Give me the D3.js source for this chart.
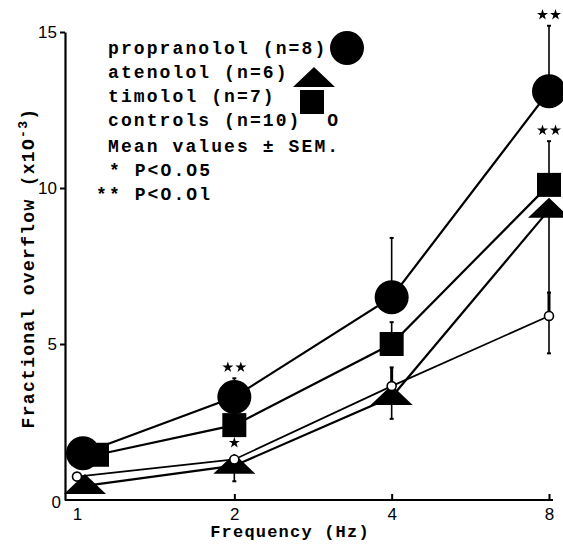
<!DOCTYPE html>
<html>
<head>
<meta charset="utf-8">
<script src="https://cdn.jsdelivr.net/npm/d3@7"></script>
<style>
  body { margin: 0; background: #fff; }
  svg { display: block; }
  .mono { font-family: "Liberation Mono", "DejaVu Sans Mono", monospace; font-weight: bold; }
  .tick text { font-family: "Liberation Sans", Arial, sans-serif; font-size: 17px; }
</style>
</head>
<body>
<div class="canvas"></div>
<script>
// data
const freqs = [1, 2, 4, 8];
const propranolol = [1.5, 3.3, 6.5, 13.1];
const propranololSem = [0, 0.6, 1.9, 2.1];
const timolol = [1.45, 2.4, 5.0, 10.1];
const timololSem = [0, 0, 0.7, 1.4];
const atenolol = [0.45, 1.1, 3.3, 9.3];
const atenololSem = [0, 0.5, 0.7, 4.6];
const controls = [0.75, 1.3, 3.65, 5.9];
const controlsSem = [0, 0, 0.6, 0.75];
const propranololSig = ['', '**', '', '**'];
const timololSig = ['', '', '', '**'];
const atenololSig = ['', '*', '', ''];
const controlsSig = ['', '', '', ''];
const yTicks = [0, 5, 10, 15];
const legendLabels = ['propranolol (n=8)', 'atenolol (n=6)', 'timolol (n=7)', 'controls (n=10) O'];
const noteLabels = ['Mean values \u00B1 SEM.', ' * P<O.O5', '** P<O.Ol'];

const dims = { width: 563, height: 544 };

const svg = d3.select('.canvas')
  .append('svg')
  .attr('width', dims.width)
  .attr('height', dims.height);

svg.append('rect').attr('width', dims.width).attr('height', dims.height).attr('fill', '#fff');

const x = d3.scaleLog().base(2).domain([1, 8]).range([77, 549]);
const y = d3.scaleLinear().domain([0, 15]).range([500, 32]);

// series: jitter at 1 Hz only, as in the original figure
const series = [
  { name: 'propranolol', vals: propranolol, sem: propranololSem, sig: propranololSig, dir: -1, shape: 'circle', dx1: 6 },
  { name: 'timolol', vals: timolol, sem: timololSem, sig: timololSig, dir: -1, shape: 'square', dx1: 20 },
  { name: 'atenolol', vals: atenolol, sem: atenololSem, sig: atenololSig, dir: 1, shape: 'triangle', dx1: 8 },
  { name: 'controls', vals: controls, sem: controlsSem, sig: controlsSig, dir: -1, shape: 'open', dx1: 0 }
];

const px = (s, i) => x(freqs[i]) + (i === 0 ? s.dx1 : 0);

// axes
const xAxis = d3.axisBottom(x)
  .tickValues(freqs)
  .tickFormat(d3.format('d'))
  .tickSizeInner(-6)
  .tickSizeOuter(0)
  .tickPadding(8);

const gx = svg.append('g')
  .attr('transform', `translate(0, ${y(0)})`)
  .call(xAxis);
gx.select('.domain').attr('d', `M65,0H${x(8) + 4}`).attr('stroke-width', 2.2);
gx.selectAll('.tick line').attr('stroke-width', 2);
gx.selectAll('.tick').filter(d => d === 1).select('line').remove();

const yAxis = d3.axisLeft(y)
  .tickValues(yTicks)
  .tickSizeInner(5)
  .tickSizeOuter(0)
  .tickPadding(3);

const gy = svg.append('g')
  .attr('transform', 'translate(65, 0)')
  .call(yAxis);
gy.select('.domain').attr('stroke-width', 2.2);
gy.selectAll('.tick line').attr('stroke-width', 2);
gy.selectAll('.tick').filter(d => d === 0).select('line').remove();
gy.selectAll('.tick').filter(d => d === 0).select('text').attr('x', -4).attr('dy', '0.45em');

svg.append('text')
  .attr('class', 'mono')
  .attr('x', 290).attr('y', 537)
  .attr('text-anchor', 'middle')
  .attr('font-size', 17)
  .attr('letter-spacing', 1.2)
  .text('Frequency (Hz)');

const ytitle = svg.append('text')
  .attr('class', 'mono')
  .attr('transform', 'translate(34, 268) rotate(-90)')
  .attr('text-anchor', 'middle')
  .attr('font-size', 18)
  .attr('letter-spacing', 1.3);
ytitle.append('tspan').text('Fractional overflow (x1O');
ytitle.append('tspan').attr('dy', -7).attr('font-size', 13).text('-3');
ytitle.append('tspan').attr('dy', 7).text(')');

// lines
const line = d3.line();
const graph = svg.append('g');

series.forEach(s => {
  graph.append('path')
    .attr('d', line(s.vals.map((v, i) => [px(s, i), y(v)])))
    .attr('fill', 'none')
    .attr('stroke', '#000')
    .attr('stroke-width', s.shape === 'open' ? 1.7 : 2.2);
});

// error bars
series.forEach(s => {
  s.vals.forEach((v, i) => {
    if (!s.sem[i]) return;
    const cx = px(s, i);
    const y1 = y(v), y2 = y(v - s.dir * s.sem[i]);
    graph.append('line')
      .attr('x1', cx).attr('x2', cx).attr('y1', y1).attr('y2', y2)
      .attr('stroke', '#000').attr('stroke-width', s.shape === 'open' ? 3 : 1.6);
    graph.append('line')
      .attr('x1', cx - 2).attr('x2', cx + 2).attr('y1', y2).attr('y2', y2)
      .attr('stroke', '#000').attr('stroke-width', 2);
  });
});

// markers
const drawMarker = (g, shape, cx, cy) => {
  if (shape === 'circle') {
    g.append('circle').attr('cx', cx).attr('cy', cy).attr('r', 17).attr('fill', '#000');
  } else if (shape === 'square') {
    g.append('rect').attr('x', cx - 12).attr('y', cy - 12).attr('width', 24).attr('height', 24).attr('fill', '#000');
  } else if (shape === 'triangle') {
    g.append('path').attr('d', `M${cx},${cy - 12}L${cx + 21},${cy + 8}L${cx - 21},${cy + 8}Z`).attr('fill', '#000');
  } else {
    g.append('circle').attr('cx', cx).attr('cy', cy).attr('r', 4.5)
      .attr('fill', '#fff').attr('stroke', '#000').attr('stroke-width', 1.6);
  }
};

const markerTop = { circle: 17, square: 12, triangle: 12, open: 5 };

series.forEach(s => {
  s.vals.forEach((v, i) => drawMarker(graph, s.shape, px(s, i), y(v)));
});

// significance stars
const star = d3.symbol().type(d3.symbolStar).size(38);
series.forEach(s => {
  s.vals.forEach((v, i) => {
    const n = s.sig[i].length;
    if (!n) return;
    let top = y(v) - markerTop[s.shape];
    if (s.dir < 0 && s.sem[i]) top = Math.min(top, y(v + s.sem[i]));
    const cy = top - 11;
    for (let k = 0; k < n; k++) {
      const cx = px(s, i) + (k - (n - 1) / 2) * 13;
      graph.append('path').attr('d', star).attr('transform', `translate(${cx}, ${cy})`).attr('fill', '#000');
    }
  });
});

// legend
const legend = svg.append('g').attr('class', 'mono').attr('font-size', 18).attr('letter-spacing', 2.1);
const legendShapes = ['circle', 'triangle', 'square', null];
const legendSymX = [347, 314, 312, null];
legendLabels.forEach((t, i) => {
  const ty = 54 + i * 24;
  legend.append('text').attr('x', 108).attr('y', ty).attr('xml:space', 'preserve').text(i === 3 ? t.replace(') O', ')  O') : t);
  if (legendShapes[i]) drawMarker(legend, legendShapes[i], legendSymX[i], ty - 6 + (i === 2 ? 6 : 0) + (i === 1 ? 7 : 0));
});
noteLabels.forEach((t, i) => {
  legend.append('text').attr('x', i === 0 ? 108 : 96).attr('y', 152 + i * 24).attr('xml:space', 'preserve').text(t);
});
</script>
</body>
</html>
